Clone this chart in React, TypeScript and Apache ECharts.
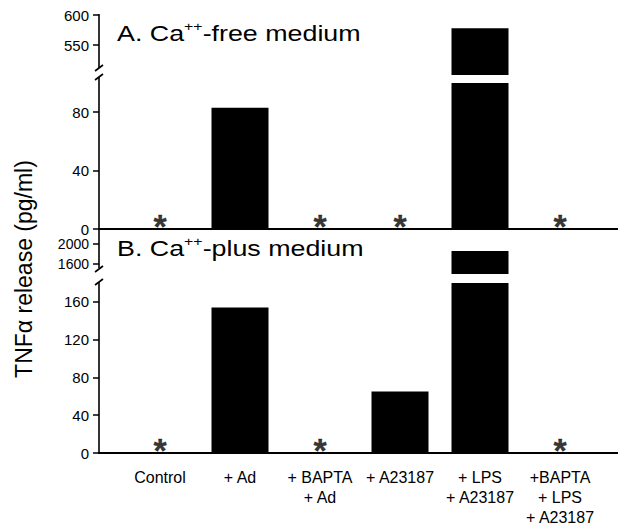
import React, { useEffect, useRef } from "react";
import * as echarts from "echarts";

const categories = [
  "Control",
  "+ Ad",
  "+ BAPTA\n+ Ad",
  "+ A23187",
  "+ LPS\n+ A23187",
  "+BAPTA\n+ LPS\n+ A23187",
];
const valuesA = [0, 83, 0, 0, 578, 0];
const valuesB = [0, 154, 0, 65, 1860, 0];
const starsA = [1, 0, 1, 1, 0, 1];
const starsB = [1, 0, 1, 0, 0, 1];
const ticksAUpper = [550, 600];
const ticksALower = [0, 40, 80];
const ticksBUpper = [1600, 2000];
const ticksBLower = [0, 40, 80, 120, 160];
const categoryIdx = [0, 1, 2, 3, 4, 5];

const FONT = "'Liberation Sans', Arial, Helvetica, sans-serif";

export default function App() {
  const ref = useRef<HTMLDivElement>(null);
  useEffect(() => {
    if (!ref.current) return;
    const chart = echarts.init(ref.current, null, { renderer: "svg" });

    const grids = [
      { left: 99, right: 0, top: 15, height: 60 },
      { left: 99, right: 0, top: 83, height: 146 },
      { left: 99, right: 0, top: 229, height: 45 },
      { left: 99, right: 0, top: 283, height: 170 },
    ];
    const yRanges = [
      [500, 600, ticksAUpper],
      [0, 100, ticksALower],
      [1400, 2300, ticksBUpper],
      [0, 180, ticksBLower],
    ] as const;

    const xAxes = grids.map((_, i) => ({
      type: "value",
      gridIndex: i,
      min: -0.7625,
      max: 5.725,
      splitLine: { show: false },
      axisTick: { show: false },
      axisLine: {
        show: i === 1 || i === 3,
        onZero: false,
        lineStyle: { color: "#000", width: 2 },
      },
      axisLabel: {
        show: i === 3,
        customValues: categoryIdx,
        formatter: (v: number) => categories[Math.round(v)] ?? "",
        color: "#000",
        fontSize: 16,
        lineHeight: 20,
        fontFamily: FONT,
        margin: 14,
        verticalAlign: "top",
      },
    }));

    const yAxes = yRanges.map(([min, max, ticks], i) => ({
      type: "value",
      gridIndex: i,
      position: "left",
      min,
      max,
      splitLine: { show: false },
      axisLine: { show: false, onZero: false },
      axisTick: {
        show: true,
        length: 6,
        customValues: ticks as unknown as number[],
        lineStyle: { color: "#000", width: 1.5 },
      },
      axisLabel: {
        customValues: ticks as unknown as number[],
        formatter: (v: number) => String(v),
        color: "#000",
        fontSize: i === 2 ? 14 : 15,
        fontFamily: FONT,
        margin: 10,
      },
    }));

    const barSeries = (data: number[], gridIdx: number) => ({
      type: "bar",
      xAxisIndex: gridIdx,
      yAxisIndex: gridIdx,
      data: data.map((v, i) => [i, v]),
      barWidth: 57,
      clip: true,
      itemStyle: { color: "#000" },
      silent: true,
    });

    const starSeries = (flags: number[], gridIdx: number) => ({
      type: "scatter",
      xAxisIndex: gridIdx,
      yAxisIndex: gridIdx,
      data: flags.map((f, i) => (f ? [i, 0] : null)).filter(Boolean),
      symbol: "circle",
      symbolSize: 1,
      itemStyle: { color: "rgba(0,0,0,0)" },
      label: {
        show: true,
        formatter: "*",
        position: "inside",
        offset: [0, -3],
        color: "#000",
        fontSize: 34,
        fontWeight: "bold",
        fontFamily: FONT,
        textBorderColor: "#000",
        textBorderWidth: 0.3,
      },
      silent: true,
    });

    const axisLine = (x1: number, y1: number, x2: number, y2: number) => ({
      type: "line",
      shape: { x1, y1, x2, y2 },
      style: { stroke: "#000", lineWidth: 1.6 },
      silent: true,
    });

    const title = (label: string, rest: string, y: number) => ({
      type: "text",
      x: 117,
      y,
      scaleX: 1.22,
      style: {
        text: `{m|${label} Ca}{s|++}{m|${rest}}`,
        rich: {
          m: { fontSize: 22, fontFamily: FONT, fill: "#000", lineHeight: 26 },
          s: {
            fontSize: 13,
            fontFamily: FONT,
            fill: "#000",
            verticalAlign: "top",
            lineHeight: 14,
          },
        },
        fill: "#000",
      },
      silent: true,
    });

    chart.setOption({
      animation: false,
      backgroundColor: "#fff",
      grid: grids,
      xAxis: xAxes,
      yAxis: yAxes,
      series: [
        barSeries(valuesA, 0),
        barSeries(valuesA, 1),
        barSeries(valuesB, 2),
        barSeries(valuesB, 3),
        starSeries(starsA, 1),
        starSeries(starsB, 3),
      ],
      graphic: [
        axisLine(99, 14, 99, 68),
        axisLine(95, 71, 103, 65),
        axisLine(95, 80, 103, 74),
        axisLine(99, 77, 99, 230),
        axisLine(99, 229, 99, 268),
        axisLine(95, 272, 103, 266),
        axisLine(95, 285, 103, 279),
        axisLine(99, 282, 99, 454),
        title("A.", "-free medium", 20),
        title("B.", "-plus medium", 235),
        {
          type: "text",
          x: 24,
          y: 269,
          rotation: Math.PI / 2,
          style: {
            text: "TNFα release (pg/ml)",
            fontSize: 23,
            fontFamily: FONT,
            fill: "#000",
            align: "center",
            verticalAlign: "middle",
          },
          silent: true,
        },
      ],
    });
    return () => chart.dispose();
  }, []);
  return (
    <div
      ref={ref}
      style={{ position: "fixed", left: 0, top: 0, width: 618, height: 527 }}
    />
  );
}
